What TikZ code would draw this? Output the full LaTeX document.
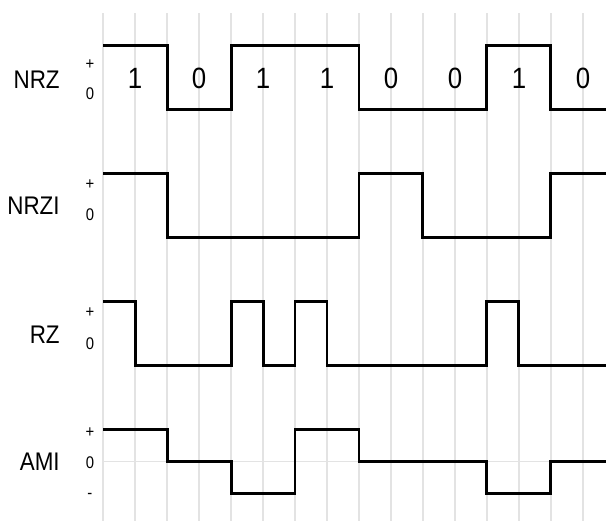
\documentclass[tikz,border=0pt]{standalone}
\usepackage{fontspec}
\setmainfont{Liberation Sans}[FakeStretch=0.88]

\begin{document}
\begin{tikzpicture}[
    x=0.64cm, y=-0.64cm,
    gridline/.style={gray!22, line width=0.6pt},
    signal/.style={line width=1.7pt, line join=miter},
    coding/.style={font=\fontsize{14.5}{17}\selectfont, anchor=east, inner sep=0pt},
    level/.style={font=\fontsize{9.6}{11}\selectfont, inner sep=0pt},
    bit/.style={font=\fontsize{16.7}{20}\selectfont, inner sep=0pt}
]
\useasboundingbox (-3.22,-0.41) rectangle (15.72,15.875);
% time grid
\foreach \x in {0,...,15} {
    \draw[gridline] (\x,0) -- (\x,15.875);
}
\draw[gridline] (0,14) -- (15.72,14);

% bit values
\foreach \i/\b in {0/1, 1/0, 2/1, 3/1, 4/0, 5/0, 6/1, 7/0} {
    \node[bit] (bit\i) at (1+2*\i, 2.05) {\b};
}

% coding names
\node[coding] (nrz)  at (-1.344, 2.08) {NRZ};
\node[coding] (nrzi) at (-1.344, 6.03) {NRZI};
\node[coding] (rz)   at (-1.344, 10.06) {RZ};
\node[coding] (ami)  at (-1.344, 14.02) {AMI};

% levels
\foreach \n/\y/\lbl in {%
    nrzp/1.60/+, nrzz/2.53/0,
    nrzip/5.35/+, nrziz/6.29/0,
    rzp/9.35/+, rzz/10.34/0,
    amip/13.10/+, amiz/14.06/0, amim/15.09/-%
} {
    \node[level] (\n) at (-0.41, \y) {\lbl};
}

% waveforms
\draw[signal] (0,1) -| (2,3) -| (4,1) -| (8,3) -| (12,1) -| (14,3) -- (15.72,3);
\draw[signal] (0,5) -| (2,7) -| (8,5) -| (10,7) -| (14,5) -- (15.72,5);
\draw[signal] (0,9) -| (1,11) -| (4,9) -| (5,11) -| (6,9) -| (7,11)
    -| (12,9) -| (13,11) -- (15.72,11);
\draw[signal] (0,13) -| (2,14) -| (4,15) -| (6,13) -| (8,14) -| (12,15)
    -| (14,14) -- (15.72,14);
\end{tikzpicture}
\end{document}
